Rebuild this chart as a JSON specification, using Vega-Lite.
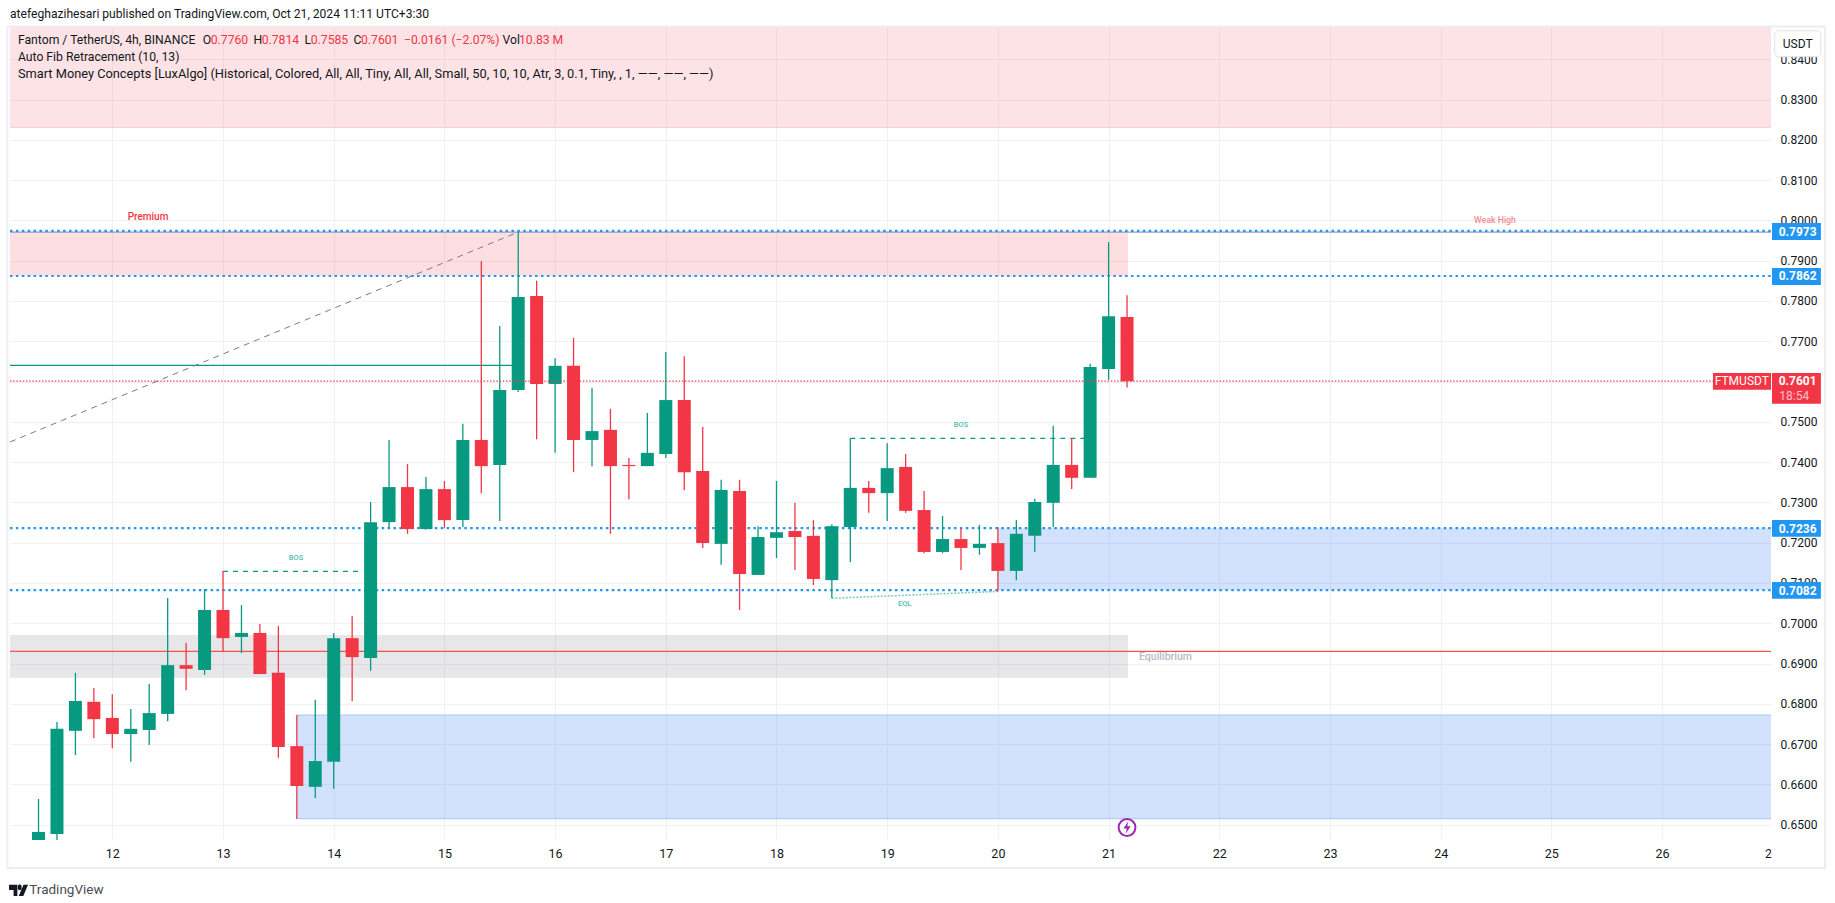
{
"$schema":"https://vega.github.io/schema/vega-lite/v6.json",
"width":1761,"height":812,
"autosize":{"type":"none"},
"padding":{"left":10,"top":27,"right":64,"bottom":64},
"background":"#ffffff",
"config":{"font":"Roboto","view":{"stroke":null},"axis":{"domain":false,"ticks":false,"title":null}},
"title":{"text":"atefeghazihesari published on TradingView.com, Oct 21, 2024 11:11 UTC+3:30","anchor":"start","frame":"group","fontSize":12.1,"fontWeight":"normal","color":"#131722","offset":5,"font":"Roboto"},
"resolve":{"scale":{"color":"independent","opacity":"independent","size":"independent","stroke":"independent"}},
"datasets":{
"candles":[
{"t":"2024-10-11T08:00:00Z","open":0.6462,"high":0.6564,"low":0.6462,"close":0.6482},
{"t":"2024-10-11T12:00:00Z","open":0.6477,"high":0.6755,"low":0.6462,"close":0.6738},
{"t":"2024-10-11T16:00:00Z","open":0.6733,"high":0.6877,"low":0.6673,"close":0.6807},
{"t":"2024-10-11T20:00:00Z","open":0.6805,"high":0.6839,"low":0.6715,"close":0.6762},
{"t":"2024-10-12T00:00:00Z","open":0.6765,"high":0.6824,"low":0.6690,"close":0.6725},
{"t":"2024-10-12T04:00:00Z","open":0.6725,"high":0.6787,"low":0.6656,"close":0.6738},
{"t":"2024-10-12T08:00:00Z","open":0.6735,"high":0.6849,"low":0.6698,"close":0.6777},
{"t":"2024-10-12T12:00:00Z","open":0.6775,"high":0.7063,"low":0.6757,"close":0.6896},
{"t":"2024-10-12T16:00:00Z","open":0.6896,"high":0.6951,"low":0.6834,"close":0.6887},
{"t":"2024-10-12T20:00:00Z","open":0.6884,"high":0.7085,"low":0.6872,"close":0.7033},
{"t":"2024-10-13T00:00:00Z","open":0.7033,"high":0.7130,"low":0.6930,"close":0.6963},
{"t":"2024-10-13T04:00:00Z","open":0.6966,"high":0.7045,"low":0.6926,"close":0.6976},
{"t":"2024-10-13T08:00:00Z","open":0.6976,"high":0.6998,"low":0.6874,"close":0.6874},
{"t":"2024-10-13T12:00:00Z","open":0.6877,"high":0.6993,"low":0.6666,"close":0.6693},
{"t":"2024-10-13T16:00:00Z","open":0.6695,"high":0.6772,"low":0.6514,"close":0.6596},
{"t":"2024-10-13T20:00:00Z","open":0.6594,"high":0.6810,"low":0.6566,"close":0.6658},
{"t":"2024-10-14T00:00:00Z","open":0.6656,"high":0.6976,"low":0.6589,"close":0.6963},
{"t":"2024-10-14T04:00:00Z","open":0.6963,"high":0.7018,"low":0.6807,"close":0.6916},
{"t":"2024-10-14T08:00:00Z","open":0.6914,"high":0.7301,"low":0.6882,"close":0.7251},
{"t":"2024-10-14T12:00:00Z","open":0.7251,"high":0.7455,"low":0.7236,"close":0.7338},
{"t":"2024-10-14T16:00:00Z","open":0.7338,"high":0.7395,"low":0.7222,"close":0.7234},
{"t":"2024-10-14T20:00:00Z","open":0.7234,"high":0.7363,"low":0.7232,"close":0.7333},
{"t":"2024-10-15T00:00:00Z","open":0.7333,"high":0.7353,"low":0.7236,"close":0.7256},
{"t":"2024-10-15T04:00:00Z","open":0.7256,"high":0.7495,"low":0.7239,"close":0.7455},
{"t":"2024-10-15T08:00:00Z","open":0.7455,"high":0.7899,"low":0.7323,"close":0.7390},
{"t":"2024-10-15T12:00:00Z","open":0.7393,"high":0.7738,"low":0.7254,"close":0.7579},
{"t":"2024-10-15T16:00:00Z","open":0.7579,"high":0.7971,"low":0.7574,"close":0.7810},
{"t":"2024-10-15T20:00:00Z","open":0.7812,"high":0.7850,"low":0.7457,"close":0.7594},
{"t":"2024-10-16T00:00:00Z","open":0.7594,"high":0.7658,"low":0.7423,"close":0.7639},
{"t":"2024-10-16T04:00:00Z","open":0.7639,"high":0.7708,"low":0.7375,"close":0.7455},
{"t":"2024-10-16T08:00:00Z","open":0.7455,"high":0.7584,"low":0.7390,"close":0.7477},
{"t":"2024-10-16T12:00:00Z","open":0.7480,"high":0.7532,"low":0.7222,"close":0.7390},
{"t":"2024-10-16T16:00:00Z","open":0.7393,"high":0.7410,"low":0.7308,"close":0.7390},
{"t":"2024-10-16T20:00:00Z","open":0.7390,"high":0.7522,"low":0.7390,"close":0.7423},
{"t":"2024-10-17T00:00:00Z","open":0.7420,"high":0.7673,"low":0.7410,"close":0.7554},
{"t":"2024-10-17T04:00:00Z","open":0.7554,"high":0.7663,"low":0.7331,"close":0.7375},
{"t":"2024-10-17T08:00:00Z","open":0.7378,"high":0.7487,"low":0.7187,"close":0.7199},
{"t":"2024-10-17T12:00:00Z","open":0.7197,"high":0.7356,"low":0.7145,"close":0.7331},
{"t":"2024-10-17T16:00:00Z","open":0.7328,"high":0.7356,"low":0.7033,"close":0.7122},
{"t":"2024-10-17T20:00:00Z","open":0.7120,"high":0.7241,"low":0.7120,"close":0.7214},
{"t":"2024-10-18T00:00:00Z","open":0.7212,"high":0.7353,"low":0.7162,"close":0.7226},
{"t":"2024-10-18T04:00:00Z","open":0.7229,"high":0.7299,"low":0.7132,"close":0.7214},
{"t":"2024-10-18T08:00:00Z","open":0.7217,"high":0.7256,"low":0.7095,"close":0.7110},
{"t":"2024-10-18T12:00:00Z","open":0.7107,"high":0.7246,"low":0.7062,"close":0.7241},
{"t":"2024-10-18T16:00:00Z","open":0.7239,"high":0.7459,"low":0.7152,"close":0.7336},
{"t":"2024-10-18T20:00:00Z","open":0.7336,"high":0.7353,"low":0.7274,"close":0.7323},
{"t":"2024-10-19T00:00:00Z","open":0.7323,"high":0.7447,"low":0.7254,"close":0.7385},
{"t":"2024-10-19T04:00:00Z","open":0.7388,"high":0.7420,"low":0.7274,"close":0.7279},
{"t":"2024-10-19T08:00:00Z","open":0.7281,"high":0.7328,"low":0.7174,"close":0.7177},
{"t":"2024-10-19T12:00:00Z","open":0.7177,"high":0.7266,"low":0.7174,"close":0.7209},
{"t":"2024-10-19T16:00:00Z","open":0.7209,"high":0.7236,"low":0.7132,"close":0.7187},
{"t":"2024-10-19T20:00:00Z","open":0.7187,"high":0.7244,"low":0.7170,"close":0.7197},
{"t":"2024-10-20T00:00:00Z","open":0.7199,"high":0.7239,"low":0.7079,"close":0.7130},
{"t":"2024-10-20T04:00:00Z","open":0.7130,"high":0.7256,"low":0.7107,"close":0.7222},
{"t":"2024-10-20T08:00:00Z","open":0.7217,"high":0.7309,"low":0.7177,"close":0.7301},
{"t":"2024-10-20T12:00:00Z","open":0.7299,"high":0.7490,"low":0.7239,"close":0.7393},
{"t":"2024-10-20T16:00:00Z","open":0.7393,"high":0.7459,"low":0.7333,"close":0.7361},
{"t":"2024-10-20T20:00:00Z","open":0.7361,"high":0.7644,"low":0.7361,"close":0.7636},
{"t":"2024-10-21T00:00:00Z","open":0.7631,"high":0.7946,"low":0.7604,"close":0.7762},
{"t":"2024-10-21T04:00:00Z","open":0.7760,"high":0.7814,"low":0.7585,"close":0.7601}
],
"zones":[
{"kind":"supply","t0":"2024-10-11T01:49:00Z","t1":"2024-10-26T23:37:00Z","p0":0.82305,"p1":0.8480},
{"kind":"premium","t0":"2024-10-11T01:49:00Z","t1":"2024-10-21T04:12:00Z","p0":0.7862,"p1":0.7971},
{"kind":"equilibrium","t0":"2024-10-11T01:49:00Z","t1":"2024-10-21T04:12:00Z","p0":0.6865,"p1":0.6971},
{"kind":"demand","t0":"2024-10-20T00:00:00Z","t1":"2024-10-26T23:37:00Z","p0":0.7082,"p1":0.7236},
{"kind":"demand","t0":"2024-10-13T16:00:00Z","t1":"2024-10-26T23:37:00Z","p0":0.6515,"p1":0.6772}
],
"edges":[
{"kind":"supply edge","t0":"2024-10-11T01:49:00Z","t1":"2024-10-26T23:37:00Z","p":0.82305},
{"kind":"demand edge","t0":"2024-10-13T16:00:00Z","t1":"2024-10-26T23:37:00Z","p":0.6772},
{"kind":"demand edge","t0":"2024-10-13T16:00:00Z","t1":"2024-10-26T23:37:00Z","p":0.6515},
{"kind":"weak high","t0":"2024-10-11T01:49:00Z","t1":"2024-10-26T23:37:00Z","p":0.7971},
{"kind":"equilibrium","t0":"2024-10-11T01:49:00Z","t1":"2024-10-26T23:37:00Z","p":0.6930},
{"kind":"swing","t0":"2024-10-11T01:49:00Z","t1":"2024-10-15T14:39:00Z","p":0.7640}
],
"levels":[
{"t0":"2024-10-11T01:49:00Z","t1":"2024-10-26T23:37:00Z","p":0.7974},
{"t0":"2024-10-11T01:49:00Z","t1":"2024-10-26T23:37:00Z","p":0.7862},
{"t0":"2024-10-11T01:49:00Z","t1":"2024-10-26T23:37:00Z","p":0.7236},
{"t0":"2024-10-11T01:49:00Z","t1":"2024-10-26T23:37:00Z","p":0.7082}
],
"last":[{"t0":"2024-10-11T01:49:00Z","t1":"2024-10-26T11:02:00Z","p":0.7601}],
"bos":[
{"t0":"2024-10-13T00:00:00Z","t1":"2024-10-14T05:29:00Z","p":0.7129},
{"t0":"2024-10-18T16:00:00Z","t1":"2024-10-20T18:53:00Z","p":0.7459}
],
"fib":[{"t":"2024-10-11T01:49:00Z","p":0.7450},{"t":"2024-10-15T16:00:00Z","p":0.7971}],
"eql":[{"t":"2024-10-18T12:00:00Z","p":0.7062},{"t":"2024-10-20T00:00:00Z","p":0.7079}],
"tags":[
{"kind":"level","t0":"2024-10-26T23:50:00Z","t1":"2024-10-27T10:26:00Z","p0":0.79513,"p1":0.79935},
{"kind":"level","t0":"2024-10-26T23:50:00Z","t1":"2024-10-27T10:26:00Z","p0":0.78396,"p1":0.78818},
{"kind":"level","t0":"2024-10-26T23:50:00Z","t1":"2024-10-27T10:26:00Z","p0":0.72149,"p1":0.72563},
{"kind":"level","t0":"2024-10-26T23:50:00Z","t1":"2024-10-27T10:26:00Z","p0":0.7061,"p1":0.71024},
{"kind":"price","t0":"2024-10-26T23:50:00Z","t1":"2024-10-27T10:26:00Z","p0":0.7545,"p1":0.76212},
{"kind":"price","t0":"2024-10-26T11:02:00Z","t1":"2024-10-26T23:37:00Z","p0":0.75797,"p1":0.76212}
],
"labels":[
{"s":"Fantom / TetherUS, 4h, BINANCE","t":"2024-10-11T03:32:00Z","p":0.8447,"kind":"text"},
{"s":"O","t":"2024-10-12T19:35:00Z","p":0.8447,"kind":"text"},
{"s":"0.7760","t":"2024-10-12T21:20:00Z","p":0.8447,"kind":"down"},
{"s":"H","t":"2024-10-13T06:38:00Z","p":0.8447,"kind":"text"},
{"s":"0.7814","t":"2024-10-13T08:23:00Z","p":0.8447,"kind":"down"},
{"s":"L","t":"2024-10-13T17:41:00Z","p":0.8447,"kind":"text"},
{"s":"0.7585","t":"2024-10-13T19:01:00Z","p":0.8447,"kind":"down"},
{"s":"C","t":"2024-10-14T04:19:00Z","p":0.8447,"kind":"text"},
{"s":"0.7601","t":"2024-10-14T05:55:00Z","p":0.8447,"kind":"down"},
{"s":"−0.0161 (−2.07%)","t":"2024-10-14T15:14:00Z","p":0.8447,"kind":"down"},
{"s":"Vol","t":"2024-10-15T12:37:00Z","p":0.8447,"kind":"text"},
{"s":"10.83 M","t":"2024-10-15T16:10:00Z","p":0.8447,"kind":"down"},
{"s":"Auto Fib Retracement (10, 13)","t":"2024-10-11T03:32:00Z","p":0.8405,"kind":"text"}
],
"indicator":[
{"s":"Smart Money Concepts [LuxAlgo] (Historical, Colored, All, All, Tiny, All, All, Small, 50, 10, 10, Atr, 3, 0.1, Tiny, , 1, ——, ——, ——)","t":"2024-10-11T03:32:00Z","p":0.8363}
],
"small":[
{"s":"Premium","t":"2024-10-12T07:44:00Z","p":0.8008,"kind":"premium"},
{"s":"Weak High","t":"2024-10-24T11:46:00Z","p":0.8001,"kind":"weak"},
{"s":"BOS","t":"2024-10-13T15:49:00Z","p":0.7162,"kind":"bos"},
{"s":"BOS","t":"2024-10-19T16:00:00Z","p":0.7492,"kind":"bos"},
{"s":"EQL","t":"2024-10-19T03:47:00Z","p":0.7049,"kind":"bos"}
],
"tagtext":[
{"s":"0.7973","t":"2024-10-27T05:24:00Z","p":0.7972},
{"s":"0.7862","t":"2024-10-27T05:24:00Z","p":0.7861},
{"s":"0.7236","t":"2024-10-27T05:24:00Z","p":0.7235},
{"s":"0.7082","t":"2024-10-27T05:24:00Z","p":0.7081},
{"s":"0.7601","t":"2024-10-27T05:24:00Z","p":0.7601}
],
"plainlabels":[
{"s":"FTMUSDT","t":"2024-10-26T17:17:00Z","p":0.7601,"kind":"white"},
{"s":"18:54","t":"2024-10-27T04:40:00Z","p":0.7565,"kind":"timer"},
{"s":"USDT","t":"2024-10-27T05:24:00Z","p":0.8437,"kind":"dark"},
{"s":"2","t":"2024-10-26T23:02:00Z","p":0.6428,"kind":"dark"}
]
},
"data":{"name":"candles"},
"encoding":{
"x":{"field":"t","type":"temporal","scale":{"type":"utc","domain":["2024-10-11T01:49:00Z","2024-10-26T23:37:00Z"],"nice":false,"padding":0},
"axis":{"orient":"bottom","grid":true,"gridColor":"#f0f1f5","gridWidth":1,"labelColor":"#131722","labelFontSize":12.5,"labelPadding":8,"labelExpr":"utcFormat(datum.value,'%-d')","values":["2024-10-12T00:00:00Z","2024-10-13T00:00:00Z","2024-10-14T00:00:00Z","2024-10-15T00:00:00Z","2024-10-16T00:00:00Z","2024-10-17T00:00:00Z","2024-10-18T00:00:00Z","2024-10-19T00:00:00Z","2024-10-20T00:00:00Z","2024-10-21T00:00:00Z","2024-10-22T00:00:00Z","2024-10-23T00:00:00Z","2024-10-24T00:00:00Z","2024-10-25T00:00:00Z","2024-10-26T00:00:00Z"]}},
"y":{"field":"p","type":"quantitative","scale":{"domain":[0.64645,0.8480],"nice":false,"zero":false},
"axis":{"orient":"right","grid":true,"gridColor":"#f0f1f5","gridWidth":1,"format":".4f","labelColor":"#131722","labelFontSize":12,"labelPadding":9,"values":[0.65,0.66,0.67,0.68,0.69,0.70,0.71,0.72,0.73,0.74,0.75,0.76,0.77,0.78,0.79,0.80,0.81,0.82,0.83,0.84]}}
},
"layer":[
{"data":{"name":"zones"},"mark":{"type":"rect"},"encoding":{"x":{"field":"t0","type":"temporal"},"x2":{"field":"t1"},"y":{"field":"p0","type":"quantitative"},"y2":{"field":"p1"},"color":{"field":"kind","type":"nominal","legend":null,"scale":{"domain":["supply","premium","equilibrium","demand"],"range":["#f23645","#f23645","#787b86","#226cef"]}},"opacity":{"field":"kind","type":"nominal","legend":null,"scale":{"domain":["supply","premium","equilibrium","demand"],"range":[0.14,0.2,0.2,0.19]}}}},
{"data":{"name":"edges"},"mark":{"type":"rule","strokeWidth":1.2},"encoding":{"x":{"field":"t0","type":"temporal"},"x2":{"field":"t1"},"y":{"field":"p","type":"quantitative"},"stroke":{"field":"kind","type":"nominal","legend":null,"scale":{"domain":["supply edge","demand edge","weak high","equilibrium","swing"],"range":["#f8cfd2","#b3ccf8","#8e9cc4","#f0574a","#089981"]}}}},
{"data":{"name":"bos"},"mark":{"type":"rule","color":"#089981","strokeWidth":1.2,"strokeDash":[5,5]},"encoding":{"x":{"field":"t0","type":"temporal"},"x2":{"field":"t1"},"y":{"field":"p","type":"quantitative"}}},
{"data":{"name":"fib"},"mark":{"type":"line","color":"#787b86","strokeWidth":1,"strokeDash":[6,5],"clip":true},"encoding":{"x":{"field":"t","type":"temporal"},"y":{"field":"p","type":"quantitative"}}},
{"data":{"name":"eql"},"mark":{"type":"line","color":"#089981","strokeWidth":1.6,"strokeDash":[2,1.5],"opacity":0.5},"encoding":{"x":{"field":"t","type":"temporal"},"y":{"field":"p","type":"quantitative"}}},
{"data":{"name":"levels"},"mark":{"type":"rule","color":"#2196f3","strokeWidth":2.2,"strokeDash":[2.5,3.4]},"encoding":{"x":{"field":"t0","type":"temporal"},"x2":{"field":"t1"},"y":{"field":"p","type":"quantitative"}}},
{"mark":{"type":"rule","strokeWidth":1.3},"encoding":{"y":{"field":"low","type":"quantitative"},"y2":{"field":"high"},"color":{"condition":{"test":"datum.close>=datum.open","value":"#089981"},"value":"#f23645"}}},
{"mark":{"type":"bar","width":13},"encoding":{"y":{"field":"open","type":"quantitative"},"y2":{"field":"close"},"color":{"condition":{"test":"datum.close>=datum.open","value":"#089981"},"value":"#f23645"}}},
{"data":{"name":"last"},"mark":{"type":"rule","color":"#f23645","strokeWidth":1.2,"strokeDash":[1.4,1.8]},"encoding":{"x":{"field":"t0","type":"temporal"},"x2":{"field":"t1"},"y":{"field":"p","type":"quantitative"}}},
{"data":{"values":[{"s":"Equilibrium","t":"2024-10-21T06:36:00Z","p":0.6917}]},"mark":{"type":"text","align":"left","baseline":"middle","fontSize":10.5,"fontWeight":500,"color":"#b8bac4"},"encoding":{"x":{"field":"t","type":"temporal"},"y":{"field":"p","type":"quantitative"},"text":{"field":"s"}}},
{"data":{"name":"small"},"mark":{"type":"text","align":"center","baseline":"middle","fontWeight":500},"encoding":{"x":{"field":"t","type":"temporal"},"y":{"field":"p","type":"quantitative"},"text":{"field":"s"},"size":{"field":"kind","type":"nominal","legend":null,"scale":{"domain":["premium","weak","bos"],"range":[10,7.5,7]}},"color":{"field":"kind","type":"nominal","legend":null,"scale":{"domain":["premium","weak","bos"],"range":["#f23645","#f98a93","#4fbfa9"]}}}},
{"data":{"name":"labels"},"mark":{"type":"text","align":"left","baseline":"middle","fontSize":12.2},"encoding":{"x":{"field":"t","type":"temporal"},"y":{"field":"p","type":"quantitative"},"text":{"field":"s"},"color":{"field":"kind","type":"nominal","legend":null,"scale":{"domain":["text","down"],"range":["#131722","#f23645"]}}}},
{"data":{"name":"indicator"},"mark":{"type":"text","align":"left","baseline":"middle","fontSize":12.8,"color":"#131722"},"encoding":{"x":{"field":"t","type":"temporal"},"y":{"field":"p","type":"quantitative"},"text":{"field":"s"}}},
{"data":{"name":"tags"},"mark":{"type":"rect","clip":false},"encoding":{"x":{"field":"t0","type":"temporal"},"x2":{"field":"t1"},"y":{"field":"p0","type":"quantitative"},"y2":{"field":"p1"},"color":{"field":"kind","type":"nominal","legend":null,"scale":{"domain":["level","price"],"range":["#2196f3","#f23645"]}}}},
{"data":{"values":[{"t0":"2024-10-27T00:25:00Z","t1":"2024-10-27T10:26:00Z","p0":0.84062,"p1":0.84708}]},"mark":{"type":"rect","fill":"#ffffff","stroke":"#e0e3eb","strokeWidth":1,"cornerRadius":4},"encoding":{"x":{"field":"t0","type":"temporal"},"x2":{"field":"t1"},"y":{"field":"p0","type":"quantitative"},"y2":{"field":"p1"}}},
{"data":{"name":"tagtext"},"mark":{"type":"text","align":"center","baseline":"middle","fontSize":12,"fontWeight":"bold","color":"#ffffff"},"encoding":{"x":{"field":"t","type":"temporal"},"y":{"field":"p","type":"quantitative"},"text":{"field":"s"}}},
{"data":{"name":"plainlabels"},"mark":{"type":"text","align":"center","baseline":"middle","fontSize":12},"encoding":{"x":{"field":"t","type":"temporal"},"y":{"field":"p","type":"quantitative"},"text":{"field":"s"},"color":{"field":"kind","type":"nominal","legend":null,"scale":{"domain":["white","timer","dark"],"range":["#ffffff","#fbc3c8","#131722"]}}}},
{"data":{"values":[{"t0":"2024-10-11T01:15:00Z","t1":"2024-10-27T11:20:00Z","p0":0.63926,"p1":0.84812}]},"mark":{"type":"rect","fill":null,"stroke":"#eceef3","strokeWidth":2},"encoding":{"x":{"field":"t0","type":"temporal"},"x2":{"field":"t1"},"y":{"field":"p0","type":"quantitative"},"y2":{"field":"p1"}}},
{"data":{"values":[{"t":"2024-10-21T04:00:00Z","p":0.6493}]},"mark":{"type":"point","shape":"circle","size":283,"fill":"#ffffff","filled":true,"stroke":"#9c27b0","strokeWidth":2,"opacity":1},"encoding":{"x":{"field":"t","type":"temporal"},"y":{"field":"p","type":"quantitative"}}},
{"data":{"values":[{"t":"2024-10-21T04:00:00Z","p":0.6493}]},"mark":{"type":"point","shape":"M0.2 -1 L-0.6 0.15 H-0.05 L-0.2 1 L0.6 -0.2 H0.05 Z","size":144,"filled":true,"fill":"#9c27b0","stroke":null,"opacity":1},"encoding":{"x":{"field":"t","type":"temporal"},"y":{"field":"p","type":"quantitative"}}},
{"data":{"values":[{"s":"TradingView","t":"2024-10-11T06:00:00Z","p":0.6337}]},"mark":{"type":"text","align":"left","baseline":"middle","fontSize":13.5,"color":"#4a4d57"},"encoding":{"x":{"field":"t","type":"temporal"},"y":{"field":"p","type":"quantitative"},"text":{"field":"s"}}},
{"data":{"values":[{"t":"2024-10-11T03:40:00Z","p":0.6337}]},"mark":{"type":"point","shape":"M-1 -0.6 H-0.12 V0.6 H-0.52 V-0.05 H-1 Z M-0.05 -0.32 A0.2 0.2 0 1 1 0.3 -0.32 A0.2 0.2 0 1 1 -0.05 -0.32 Z M1 -0.6 L0.5 0.6 H0.02 L0.52 -0.6 Z","size":361,"filled":true,"fill":"#131722","stroke":null,"opacity":1},"encoding":{"x":{"field":"t","type":"temporal"},"y":{"field":"p","type":"quantitative"}}}
]
}
